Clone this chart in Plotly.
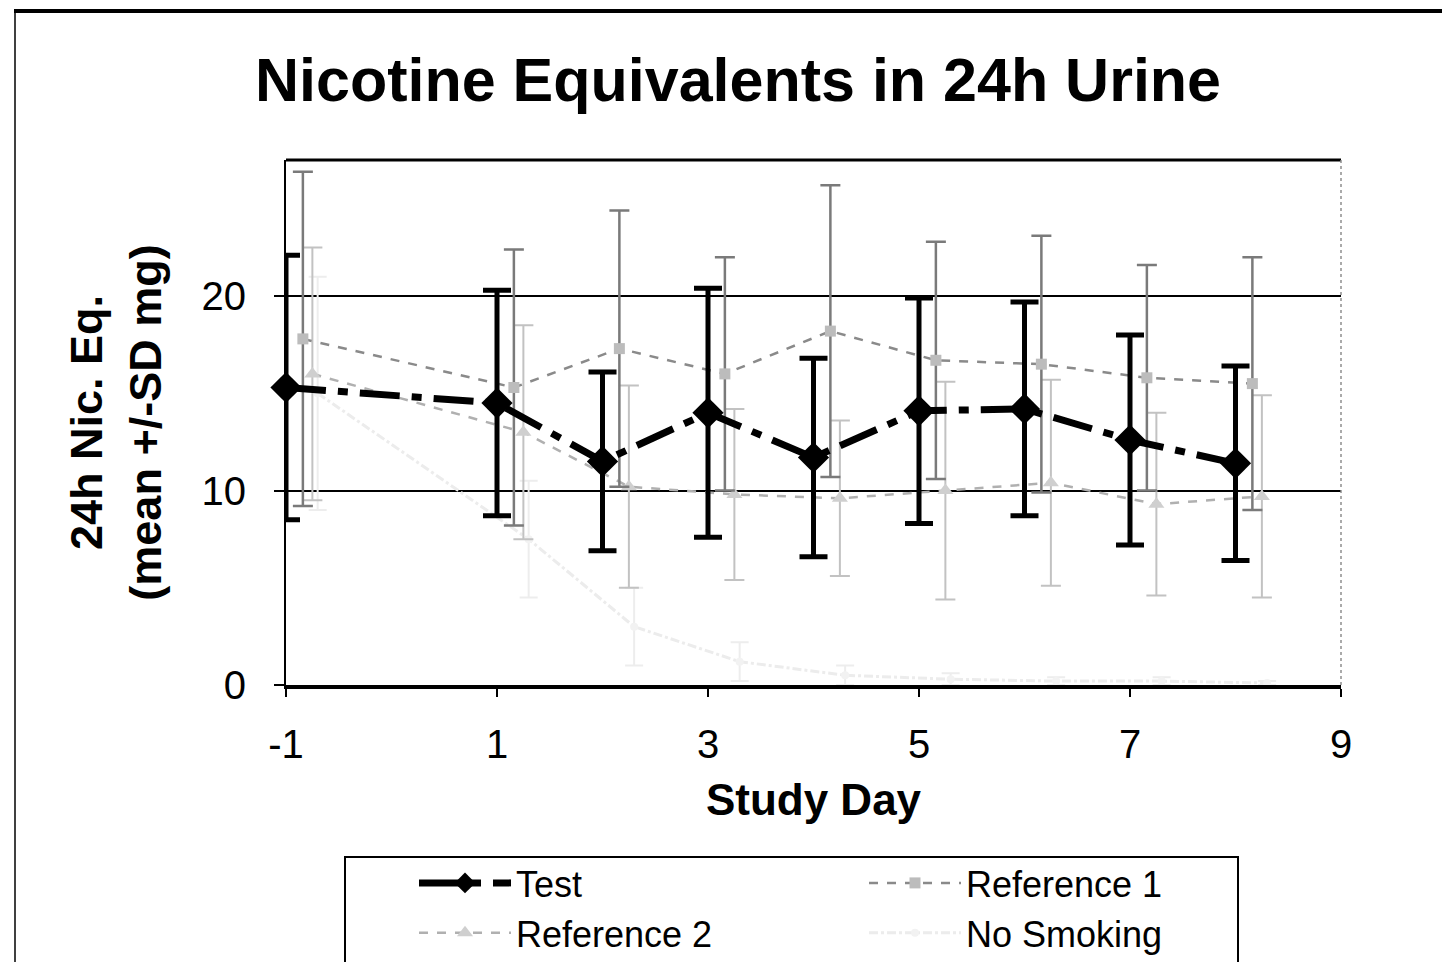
import plotly.graph_objects as go

# ---------------- data ----------------
days = [-1, 1, 2, 3, 4, 5, 6, 7, 8]

test_mean = [15.3, 14.5, 11.5, 14.0, 11.7, 14.1, 14.2, 12.6, 11.4]
test_sd = [6.8, 5.8, 4.6, 6.4, 5.1, 5.8, 5.5, 5.4, 5.0]

ref1_mean = [17.8, 15.3, 17.3, 16.0, 18.2, 16.7, 16.5, 15.8, 15.5]
ref1_sd = [8.6, 7.1, 7.1, 6.0, 7.5, 6.1, 6.6, 5.8, 6.5]

ref2_mean = [16.0, 13.0, 10.2, 9.8, 9.6, 10.0, 10.4, 9.3, 9.7]
ref2_sd = [6.5, 5.5, 5.2, 4.4, 4.0, 5.6, 5.3, 4.7, 5.2]

nosmk_mean = [15.0, 7.5, 3.0, 1.2, 0.5, 0.3, 0.2, 0.2, 0.1]
nosmk_sd = [6.0, 3.0, 2.0, 1.0, 0.5, 0.3, 0.2, 0.2, 0.1]

x_ticks = [-1, 1, 3, 5, 7, 9]
x_tick_labels = ["-1", "1", "3", "5", "7", "9"]
y_ticks = [0, 10, 20]

title_text = "Nicotine Equivalents in 24h Urine"
x_title = "Study Day"
y_title = "24h Nic. Eq.<br>(mean +/-SD mg)"

# ---------------- layout geometry ----------------
# the page body has a default 8px margin, so the figure is drawn 8px in
BODY = 8
W, H = 1450 - BODY, 962 - BODY
# plot area in reference-picture pixels
RL, RR, RT, RB = 286, 1341, 160, 685
PL, PR, PT, PB = RL - BODY, RR - BODY, RT - BODY, RB - BODY


def fx(px):
    """reference-picture x pixel -> paper x"""
    return (px - RL) / (RR - RL)


def fy(py):
    """reference-picture y pixel -> paper y"""
    return (RB - py) / (RB - RT)


FONT = "Liberation Sans, Arial, sans-serif"

# small horizontal offsets so the reference series sit beside the test bars
OFF_R1, OFF_R2, OFF_NS = 0.16, 0.25, 0.30

fig = go.Figure()

fig.add_trace(go.Scatter(
    x=[d + OFF_NS for d in days], y=nosmk_mean, name="No Smoking",
    mode="lines+markers", legendrank=4, cliponaxis=False,
    line=dict(color="#ececec", width=3, dash="dashdot"),
    marker=dict(symbol="circle", size=8, color="#f2f2f2"),
    error_y=dict(type="data", array=nosmk_sd, color="#ededed", thickness=2, width=9),
))

fig.add_trace(go.Scatter(
    x=[d + OFF_R2 for d in days], y=ref2_mean, name="Reference 2",
    mode="lines+markers", legendrank=3, cliponaxis=False,
    line=dict(color="#b0b0b0", width=2.5, dash="dash"),
    marker=dict(symbol="triangle-up", size=14, color="#cfcfcf"),
    error_y=dict(type="data", array=ref2_sd, color="#c2c2c2", thickness=2, width=10),
))

fig.add_trace(go.Scatter(
    x=[d + OFF_R1 for d in days], y=ref1_mean, name="Reference 1",
    mode="lines+markers", legendrank=2, cliponaxis=False,
    line=dict(color="#8a8a8a", width=2.5, dash="dash"),
    marker=dict(symbol="square", size=11, color="#bcbcbc"),
    error_y=dict(type="data", array=ref1_sd, color="#7a7a7a", thickness=2.5, width=10),
))

fig.add_trace(go.Scatter(
    x=days, y=test_mean, name="Test",
    mode="lines+markers", legendrank=1, cliponaxis=False,
    line=dict(color="black", width=7, dash="40px,12px,10px,12px"),
    marker=dict(symbol="diamond", size=24, color="black"),
    error_y=dict(type="data", array=test_sd, color="black", thickness=5, width=14),
))

shapes = [
    # top border of plot area
    dict(type="line", xref="paper", yref="paper", x0=0, x1=1, y0=1, y1=1,
         line=dict(color="black", width=3)),
    # right border of plot area (faint dotted)
    dict(type="line", xref="paper", yref="paper", x0=1, x1=1, y0=0, y1=1,
         line=dict(color="#8f8f8f", width=1.5, dash="dot")),
    # outer frame of the scanned figure
    dict(type="line", xref="paper", yref="paper", x0=fx(14), x1=fx(1455), y0=fy(11), y1=fy(11),
         line=dict(color="black", width=4)),
    dict(type="line", xref="paper", yref="paper", x0=fx(15), x1=fx(15), y0=fy(11), y1=fy(975),
         line=dict(color="black", width=1.5)),
    # legend box
    dict(type="rect", xref="paper", yref="paper", x0=fx(345), x1=fx(1238), y0=fy(857), y1=fy(980),
         line=dict(color="black", width=2), fillcolor="rgba(0,0,0,0)"),
]

fig.update_layout(
    width=W, height=H,
    margin=dict(l=PL, r=W - PR, t=PT, b=H - PB, autoexpand=False),
    paper_bgcolor="white", plot_bgcolor="white",
    font=dict(family=FONT, color="black", size=36),
    title=dict(text="<b>" + title_text + "</b>", x=(738 - BODY) / W, xanchor="center",
               y=1 - (80 - BODY) / H, yanchor="middle", xref="container", yref="container",
               font=dict(family=FONT, size=61, color="black")),
    showlegend=True,
    legend=dict(orientation="h", x=fx(414), xanchor="left", y=fy(853), yanchor="top",
                font=dict(family=FONT, size=36, color="black"),
                bgcolor="rgba(0,0,0,0)", borderwidth=0,
                itemwidth=92, entrywidth=343, entrywidthmode="pixels",
                tracegroupgap=0, traceorder="normal"),
    shapes=shapes,
)

fig.update_xaxes(
    range=[-1, 9], tickmode="array", tickvals=x_ticks, ticktext=x_tick_labels,
    ticks="outside", ticklen=8, tickwidth=1.5, tickcolor="black",
    showline=True, linewidth=4, linecolor="black",
    showgrid=False, zeroline=False,
    tickfont=dict(family=FONT, size=40, color="black"),
    ticklabelstandoff=13,
    title=dict(text="<b>" + x_title + "</b>", font=dict(family=FONT, size=44, color="black"),
               standoff=20),
)

fig.update_yaxes(
    range=[0, 27], tickmode="array", tickvals=y_ticks,
    ticks="outside", ticklen=10, tickwidth=1.5, tickcolor="black",
    showline=True, linewidth=2, linecolor="black",
    showgrid=True, gridcolor="black", gridwidth=1.5, zeroline=False,
    tickfont=dict(family=FONT, size=40, color="black"),
    ticklabelstandoff=20,
    title=dict(text="<b>" + y_title + "</b>", font=dict(family=FONT, size=45, color="black"),
               standoff=26),
)

fig.write_html("out.html")
